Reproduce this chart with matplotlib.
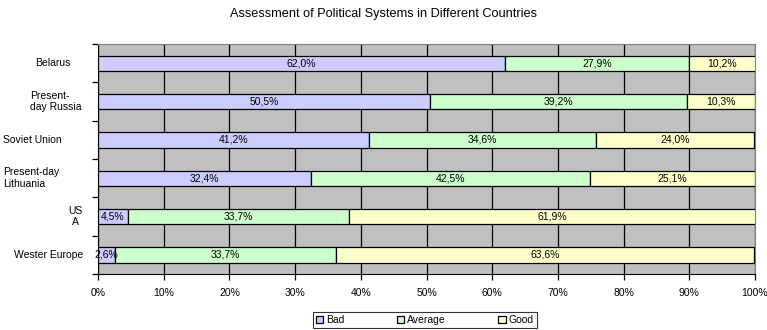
import matplotlib.pyplot as plt
import numpy as np

plt.rcParams['font.family'] = ['Liberation Sans', 'DejaVu Sans']

countries = ["Belarus", "Present-\nday Russia", "Soviet Union", "Present-day\nLithuania", "US\nA", "Wester Europe"]
bad = [62.0, 50.5, 41.2, 32.4, 4.5, 2.6]
average = [27.9, 39.2, 34.6, 42.5, 33.7, 33.7]
good = [10.2, 10.3, 24.0, 25.1, 61.9, 63.6]
series_names = ["Bad", "Average", "Good"]
colors = ["#CCCCFF", "#CCFFCC", "#FFFFCC"]

# left edge (px) and alignment of each category label
label_x = [35, 30, 3, 3, 75, 14]
label_align = ["left", "left", "left", "left", "center", "left"]

W, H = 767, 330
x0, x1, y0, y1 = 98, 755, 44, 274

fig = plt.figure(figsize=(W / 100, H / 100), dpi=100)
ax = fig.add_axes([x0 / W, 1 - y1 / H, (x1 - x0) / W, (y1 - y0) / H])
ax.set_facecolor("#C0C0C0")

y = np.arange(len(countries))
left = np.zeros(len(countries))
for vals, name, col in zip([bad, average, good], series_names, colors):
    vals = np.array(vals)
    ax.barh(y, vals, left=left, height=0.4, color=col, edgecolor="black",
            linewidth=0.9, label=name, zorder=3)
    for yi, l, v in zip(y, left, vals):
        ax.text(l + v / 2, yi, f"{v:.1f}%".replace(".", ","), ha="center",
                va="center", fontsize=7.5, zorder=4)
    left += vals

ax.set_xlim(0, 100)
ax.set_ylim(len(countries) - 0.5, -0.5)
ax.set_xticks(np.arange(0, 101, 10))
ax.set_xticklabels([f"{t}%" for t in range(0, 101, 10)], fontsize=7.5)
ax.xaxis.grid(True, color="black", linewidth=0.9, zorder=0)
ax.set_axisbelow(True)
ax.tick_params(axis="x", direction="out", length=4, width=0.9, pad=6)

ax.set_yticks(np.arange(-0.5, len(countries), 1))
ax.set_yticklabels([])
ax.tick_params(axis="y", direction="out", length=4, width=0.9)

# category labels, placed in axes-x / data-y coordinates
for i, (name, px, al) in enumerate(zip(countries, label_x, label_align)):
    ax.text((px - x0) / (x1 - x0), i, name, fontsize=7.5, ha=al,
            va="center", multialignment=al, transform=ax.get_yaxis_transform(),
            clip_on=False)

ax.spines["left"].set_color("black")
ax.spines["bottom"].set_color("black")
ax.spines["top"].set_color("#808080")
ax.spines["right"].set_color("#808080")

fig.suptitle("Assessment of Political Systems in Different Countries",
             fontsize=9.2, y=1 - 14 / H, va="center")

leg = fig.legend(loc="center", bbox_to_anchor=(425 / W, 1 - 320 / H), ncol=3,
                 fontsize=7.5, frameon=True, fancybox=False, edgecolor="black",
                 handlelength=0.7, handleheight=0.7, columnspacing=5.0,
                 handletextpad=0.3, borderpad=0.3)
leg.get_frame().set_linewidth(0.8)

fig.savefig("out.png", dpi=100)
